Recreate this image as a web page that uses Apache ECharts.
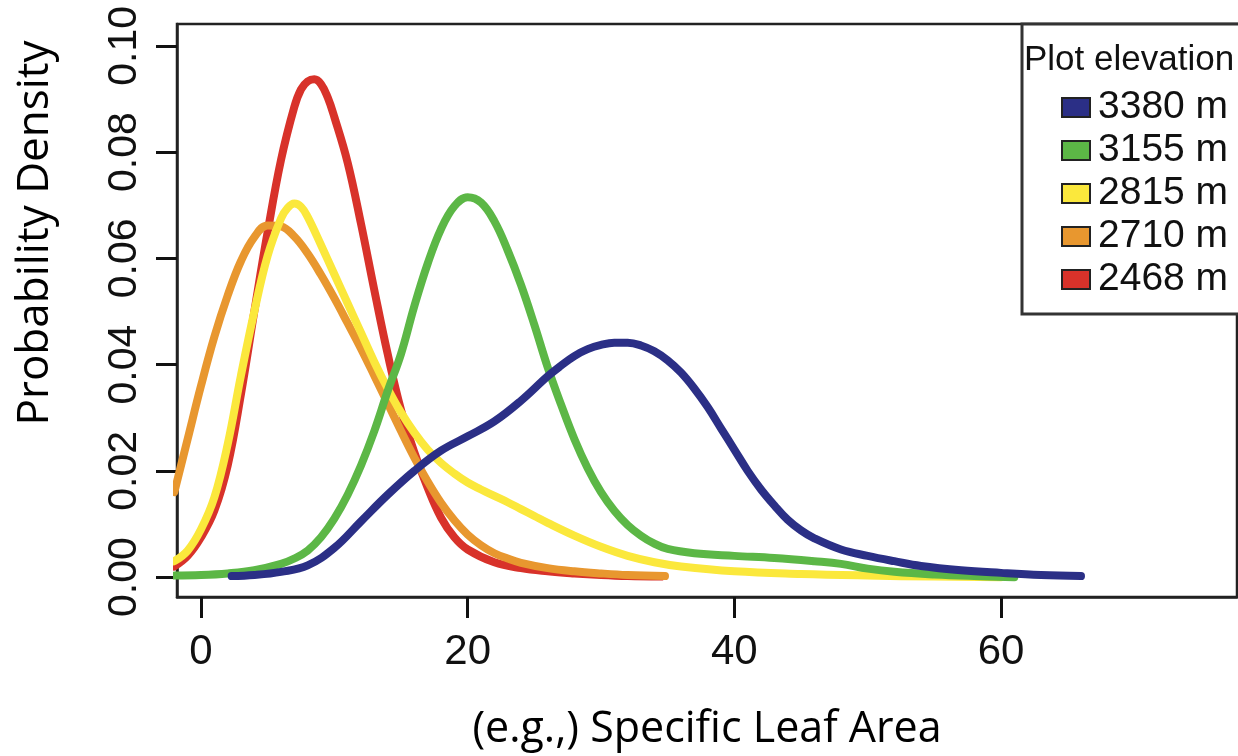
<!DOCTYPE html>
<html><head><meta charset="utf-8">
<script src="https://cdn.jsdelivr.net/npm/echarts@6/dist/echarts.min.js"></script>
<style>html,body{margin:0;padding:0;background:#fff}#c{width:1238px;height:756px}</style>
</head><body><div id="c"></div>
<script>
// ---- data ----
const legendTitle = 'Plot elevation';
const legendNames = ['3380 m', '3155 m', '2815 m', '2710 m', '2468 m'];
const xTickValues = [0, 20, 40, 60];
const yTickValues = [0, 0.02, 0.04, 0.06, 0.08, 0.10];
const xAxisTitle = '(e.g.,) Specific Leaf Area';
const yAxisTitle = 'Probability Density';

const x2468 = [-2,-1,0,1,2,3,4,5,6,7,7.5,8,8.5,9,9.5,10,11,12,13,14,15,16,17,18,19,20,22,24,26,28,30,32,34.5];
const y2468 = [0.002,0.004,0.0075,0.0125,0.021,0.0345,0.050,0.065,0.0785,0.0885,0.0918,0.0933,0.0937,0.0928,0.0903,0.0866,0.078,0.0665,0.054,0.042,0.0315,0.0235,0.0168,0.0112,0.0075,0.0052,0.0028,0.0017,0.0011,0.0007,0.0004,0.0002,0.0001];

const x2710 = [-2,-1,0,1,2,3,4,5,6,7,8,9,10,11,12,13,14,15,16,17,18,19,20,21,22,23,24,26,28,30,32,34.8];
const y2710 = [0.016,0.026,0.036,0.0452,0.0530,0.0595,0.0640,0.0662,0.0660,0.0641,0.0609,0.0569,0.0525,0.0478,0.0430,0.0379,0.0327,0.0275,0.0225,0.0180,0.0140,0.0107,0.0080,0.0060,0.0045,0.0035,0.0027,0.0017,0.0011,0.0007,0.0004,0.0002];

const x2815 = [-2,-1,0,1,2,3,4,5,6,6.5,7,7.5,8,9,10,11,12,13,14,15,16,17,18,19,20,21,22,23,24,25,26,28,30,32,34,36,40,45,50,55,60];
const y2815 = [0.003,0.005,0.009,0.015,0.025,0.038,0.050,0.0605,0.0675,0.0695,0.0703,0.0697,0.0678,0.0625,0.0570,0.0515,0.0460,0.0405,0.0355,0.0310,0.0272,0.0240,0.0215,0.0195,0.0178,0.0165,0.0153,0.0141,0.0128,0.0115,0.0102,0.0078,0.0057,0.0040,0.0028,0.0020,0.0011,0.0006,0.0003,0.0001,0];

const x3155 = [-2,0,2,4,6,7,8,9,10,11,12,13,14,15,16,17,18,19,20,21,22,23,24,25,26,27,28,29,30,31,32,33,34,35,37,40,43,46,48,50,52,55,58,61];
const y3155 = [0.0003,0.0004,0.0007,0.0013,0.0025,0.0035,0.005,0.0075,0.011,0.0155,0.021,0.0275,0.035,0.042,0.051,0.059,0.0655,0.0698,0.0715,0.0705,0.067,0.0615,0.055,0.0475,0.0395,0.0325,0.026,0.0205,0.016,0.0125,0.0098,0.0078,0.0063,0.0053,0.0045,0.004,0.0036,0.003,0.0025,0.0016,0.001,0.0005,0.0002,0];

const x3380 = [2.3,4,6,8,10,12,14,16,18,20,22,24,26,27,28,29,30,31,32,33,34,35,36,37,38,39,40,41,42,43,44,45,46,48,50,52,54,57,60,63,66];
const y3380 = [0.0002,0.0004,0.001,0.0022,0.0055,0.0105,0.0155,0.0200,0.0238,0.0265,0.0293,0.0332,0.0378,0.0398,0.0416,0.0429,0.0437,0.0441,0.0441,0.0436,0.0425,0.0408,0.0385,0.0355,0.0320,0.0280,0.0240,0.0200,0.0165,0.0135,0.0108,0.0088,0.0073,0.0052,0.0040,0.0030,0.0021,0.0013,0.0008,0.0004,0.0002];

// ---- styling ----
const colors = {'3380 m':'#2b2f86','3155 m':'#5cb746','2815 m':'#fbe83c','2710 m':'#e8972f','2468 m':'#d8322a'};
const drawOrder = [
  ['2468 m', x2468, y2468],
  ['2710 m', x2710, y2710],
  ['2815 m', x2815, y2815],
  ['3155 m', x3155, y3155],
  ['3380 m', x3380, y3380]
];
function pairs(xs, ys){ return xs.map((x,i)=>[x, ys[i]]); }

const chart = echarts.init(document.getElementById('c'), null, {renderer:'canvas'});
const tickFont = 'Liberation Sans';
const yMin = -0.00374, yMax = 0.1041;
chart.setOption({
  animation: false,
  backgroundColor: '#fff',
  grid: {left:177, top:24, right:1, bottom:155, show:true, borderColor:'#222', borderWidth:2.5, backgroundColor:'transparent'},
  xAxis: {
    type:'value', min:-1.8, max:77.7,
    axisLine:{show:true, onZero:false, lineStyle:{color:'#222', width:2.5}},
    splitLine:{show:false},
    axisTick:{show:true, inside:false, length:21, customValues:xTickValues, lineStyle:{color:'#111', width:3}},
    axisLabel:{customValues:xTickValues, margin:34, fontSize:42, fontFamily:tickFont, color:'#111'},
    name: xAxisTitle, nameLocation:'middle', nameGap:111,
    nameTextStyle:{fontSize:43, fontFamily:'Open Sans', color:'#000'}
  },
  yAxis: [{
    type:'value', min:yMin, max:yMax, position:'left',
    axisLine:{show:true, onZero:false, lineStyle:{color:'#222', width:2.5}},
    splitLine:{show:false},
    axisTick:{show:false},
    axisLabel:{customValues:yTickValues, rotate:90, margin:32, fontSize:41, fontFamily:tickFont, color:'#111',
      formatter: v => v.toFixed(2)}
  }, {
    type:'value', min:yMin, max:yMax, position:'left', offset:0,
    axisLine:{show:false, onZero:false},
    splitLine:{show:false},
    axisLabel:{show:false},
    axisTick:{show:true, inside:false, length:21, customValues:yTickValues, lineStyle:{color:'#111', width:3}}
  }],
  title: {text: legendTitle, left:1024, top:43, padding:0,
    textStyle:{fontSize:35, fontWeight:'normal', fontFamily:tickFont, color:'#111'}},
  legend: {
    data: legendNames, orient:'vertical', left:1061, top:88, icon:'rect',
    itemWidth:28, itemHeight:19, itemGap:4, selectedMode:false, padding:0,
    itemStyle:{borderColor:'#222', borderWidth:2},
    textStyle:{fontSize:39, lineHeight:39, fontFamily:tickFont, color:'#111', padding:[0,0,0,3]}
  },
  graphic: [
    {type:'rect', z:1, shape:{x:1022, y:24, width:240, height:290}, style:{fill:'#fff', stroke:'#333', lineWidth:3}},
    {type:'text', x:35, y:233, rotation:Math.PI/2, z:5,
      style:{text:yAxisTitle, fontSize:44, fontFamily:'Open Sans', fill:'#000', textAlign:'center', textVerticalAlign:'middle'}}
  ],
  series: drawOrder.map(([name, xs, ys]) => ({
    name, type:'line', yAxisIndex:0, data: pairs(xs, ys), smooth:0.4, showSymbol:false,
    color: colors[name],
    lineStyle:{width:8, color:colors[name], cap:'round', join:'round'},
    itemStyle:{color:colors[name]}
  }))
});
</script>
</body></html>
